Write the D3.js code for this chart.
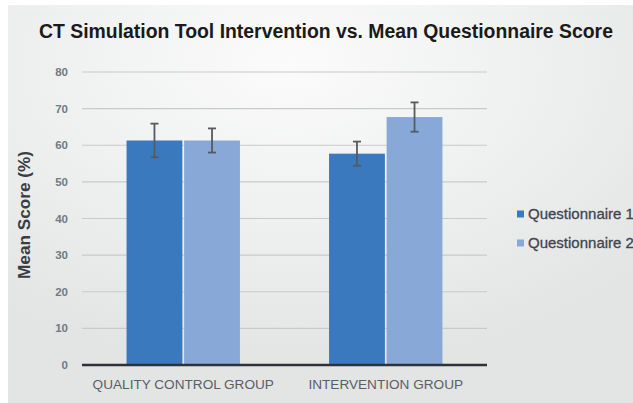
<!doctype html>
<html>
<head>
<meta charset="utf-8">
<title>CT Simulation Tool</title>
<style>
body { margin: 0; background: #fff; }
text { font-family: "Liberation Sans", Arial, sans-serif; }
</style>
<script src="https://cdn.jsdelivr.net/npm/d3@7"></script>
</head>
<body>
<script>
var groups = ["QUALITY CONTROL GROUP", "INTERVENTION GROUP"];
var seriesNames = ["Questionnaire 1", "Questionnaire 2"];
var q1Values = [61.3, 57.7];
var q2Values = [61.3, 67.7];
var q1Errors = [4.6, 3.3];
var q2Errors = [3.3, 4.0];
var yTicks = [0, 10, 20, 30, 40, 50, 60, 70, 80];
var colors = ["#3b79bf", "#88a9d8"];

var w = 633, h = 403;
var margin = {top: 72, left: 82, right: 146, bottom: 38};
var plotRight = 487;

var svg = d3.select("body").append("svg")
    .attr("width", w)
    .attr("height", h);

var defs = svg.append("defs");
var grad = defs.append("radialGradient")
    .attr("id", "bg")
    .attr("cx", "45%").attr("cy", "15%").attr("r", "75%");
grad.append("stop").attr("offset", "0%").attr("stop-color", "#fbfbfb");
grad.append("stop").attr("offset", "55%").attr("stop-color", "#eeefef");
grad.append("stop").attr("offset", "100%").attr("stop-color", "#e3e4e4");

svg.append("rect")
    .attr("x", 8).attr("y", 5)
    .attr("width", w - 8).attr("height", h - 5)
    .attr("fill", "url(#bg)");

var x = d3.scaleBand()
    .domain(groups)
    .range([margin.left, plotRight])
    .paddingInner(0.44)
    .paddingOuter(0.22);

var x1 = d3.scaleBand()
    .domain(seriesNames)
    .range([0, x.bandwidth()])
    .paddingInner(0.03);

var y = d3.scaleLinear()
    .domain([0, 80])
    .range([h - margin.bottom, margin.top]);

// gridlines
svg.append("g")
    .selectAll("line")
    .data(yTicks.filter(function(d) { return d > 0; }))
    .enter().append("line")
    .attr("x1", margin.left)
    .attr("x2", plotRight)
    .attr("y1", function(d) { return y(d); })
    .attr("y2", function(d) { return y(d); })
    .attr("stroke", "#c9caca")
    .attr("stroke-width", 1.2);

// y tick labels
svg.append("g")
    .selectAll("text")
    .data(yTicks)
    .enter().append("text")
    .attr("x", 68)
    .attr("y", function(d) { return y(d) + 4; })
    .attr("text-anchor", "end")
    .attr("font-size", 11.5)
    .attr("font-weight", "bold")
    .attr("fill", "#6f7a86")
    .text(function(d) { return d; });

var rows = [];
groups.forEach(function(g, i) {
    rows.push({group: g, series: seriesNames[0], value: q1Values[i], err: q1Errors[i], color: colors[0]});
    rows.push({group: g, series: seriesNames[1], value: q2Values[i], err: q2Errors[i], color: colors[1]});
});

svg.append("g")
    .selectAll("rect")
    .data(rows)
    .enter().append("rect")
    .attr("x", function(d) { return x(d.group) + x1(d.series); })
    .attr("y", function(d) { return y(d.value); })
    .attr("width", x1.bandwidth())
    .attr("height", function(d) { return y(0) - y(d.value); })
    .attr("fill", function(d) { return d.color; });

// error bars
var eb = svg.append("g").selectAll("g")
    .data(rows)
    .enter().append("g")
    .attr("stroke", "#555a60")
    .attr("stroke-width", 1.8);

function cx(d) { return x(d.group) + x1(d.series) + x1.bandwidth() / 2; }

eb.append("line")
    .attr("x1", cx).attr("x2", cx)
    .attr("y1", function(d) { return y(d.value + d.err); })
    .attr("y2", function(d) { return y(d.value - d.err); });
eb.append("line")
    .attr("x1", function(d) { return cx(d) - 4; })
    .attr("x2", function(d) { return cx(d) + 4; })
    .attr("y1", function(d) { return y(d.value + d.err); })
    .attr("y2", function(d) { return y(d.value + d.err); });
eb.append("line")
    .attr("x1", function(d) { return cx(d) - 4; })
    .attr("x2", function(d) { return cx(d) + 4; })
    .attr("y1", function(d) { return y(d.value - d.err); })
    .attr("y2", function(d) { return y(d.value - d.err); });

// baseline
svg.append("line")
    .attr("x1", margin.left)
    .attr("x2", plotRight)
    .attr("y1", y(0)).attr("y2", y(0))
    .attr("stroke", "#2e3236")
    .attr("stroke-width", 2.5);

// x labels
svg.append("g")
    .selectAll("text")
    .data(groups)
    .enter().append("text")
    .attr("x", function(d) { return x(d) + x.bandwidth() / 2; })
    .attr("y", 389)
    .attr("text-anchor", "middle")
    .attr("font-size", 13.6)
    .attr("fill", "#5a5f66")
    .text(function(d) { return d; });

// title
svg.append("text")
    .attr("x", 326)
    .attr("y", 38)
    .attr("text-anchor", "middle")
    .attr("font-size", 19.4)
    .attr("font-weight", "bold")
    .attr("fill", "#1a1a1a")
    .text("CT Simulation Tool Intervention vs. Mean Questionnaire Score");

// y axis title
svg.append("text")
    .attr("transform", "translate(30,215)rotate(-90)")
    .attr("text-anchor", "middle")
    .attr("font-size", 16)
    .attr("font-weight", "bold")
    .attr("fill", "#3a3d42")
    .attr("textLength", 128)
    .attr("lengthAdjust", "spacingAndGlyphs")
    .text("Mean Score (%)");

// legend
var lg = svg.append("g")
    .selectAll("g")
    .data(seriesNames)
    .enter().append("g")
    .attr("transform", function(d, i) { return "translate(517," + (214 + i * 29) + ")"; });
lg.append("rect")
    .attr("x", 0).attr("y", -3.5)
    .attr("width", 7).attr("height", 7)
    .attr("fill", function(d, i) { return colors[i]; });
lg.append("text")
    .attr("x", 11)
    .attr("y", 5)
    .attr("font-size", 15)
    .attr("fill", "#40454c")
    .attr("stroke", "#40454c")
    .attr("stroke-width", 0.3)
    .text(function(d) { return d; });
</script>
</body>
</html>
